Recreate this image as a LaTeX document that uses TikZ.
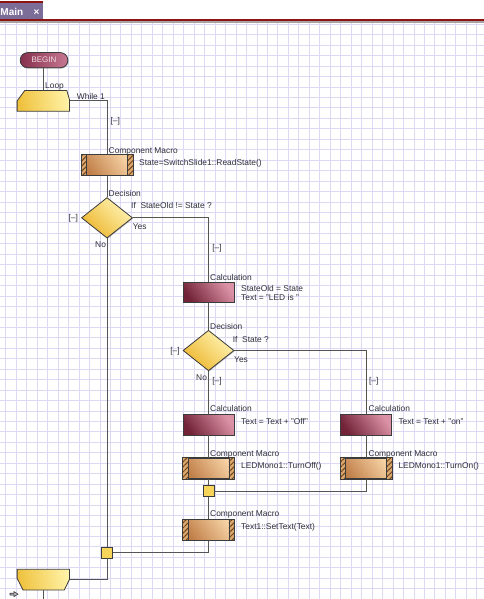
\documentclass[tikz,border=0pt]{standalone}
\usepackage{fontspec}
\setmainfont{Liberation Sans}
\usetikzlibrary{shapes.geometric,patterns.meta,calc,shadows}
\definecolor{linec}{HTML}{555555}
\definecolor{bord}{HTML}{3C3C3C}
\definecolor{txt}{HTML}{2E2E3A}
\definecolor{gridc}{HTML}{DCD9F5}
\definecolor{calcA}{HTML}{722338}
\definecolor{calcB}{HTML}{DC92A6}
\definecolor{macA}{HTML}{C07E48}
\definecolor{macB}{HTML}{F6D2A4}
\definecolor{hatchbg}{HTML}{DDA86C}
\definecolor{hatchc}{HTML}{6B4422}
\definecolor{yelA}{HTML}{EDB62E}
\definecolor{yelB}{HTML}{FFF4B4}
\definecolor{loopA}{HTML}{EFC23E}
\definecolor{loopB}{HTML}{FFF2A6}
\definecolor{jun}{HTML}{F7D55A}
\definecolor{begA}{HTML}{86304D}
\definecolor{begB}{HTML}{C77892}
\definecolor{begT}{HTML}{F3DDE6}
\definecolor{tabc}{HTML}{7C6D98}
\definecolor{tabred}{HTML}{8E1414}
\definecolor{tabgray}{HTML}{A8A2A2}
\definecolor{iconc}{HTML}{B8B8C0}
\tikzset{
  conn/.style={draw=linec, line width=1pt},
  lbl/.style={anchor=base west, inner sep=0pt, text=txt, font=\fontsize{8.4}{9}\selectfont},
  tog/.style={anchor=center, inner sep=0pt, text=txt, font=\fontsize{8.4}{9}\selectfont},
  shad/.style={drop shadow={shadow xshift=0.8pt, shadow yshift=-0.8pt, opacity=0.25, fill=black}},
  calcbox/.style={rectangle, draw=bord, line width=0.9pt, minimum width=51pt, minimum height=20.5pt, inner sep=0pt, shad, left color=calcA, right color=calcB, shading angle=125},
  macrobox/.style={rectangle, draw=bord, line width=0.9pt, minimum width=51pt, minimum height=20.5pt, inner sep=0pt, shad, left color=macA, right color=macB, shading angle=125},
  decis/.style={diamond, draw=bord, line width=0.8pt, minimum width=51pt, minimum height=40.5pt, inner sep=0pt, shad, left color=yelA, right color=yelB, shading angle=135},
  junc/.style={rectangle, draw=bord, line width=0.8pt, minimum size=10.8pt, inner sep=0pt, fill=jun},
  ghost/.style={rectangle, draw=none, inner sep=0pt, minimum width=52pt, minimum height=20.4pt},
  loopshape/.style={draw=bord, line width=0.8pt, left color=loopA, right color=loopB, shading angle=100},
  hatchstrip/.style={fill=hatchbg},
  hatchlines/.style={pattern={Lines[angle=45,distance=3.6pt,line width=1pt]}, pattern color=hatchc},
  beginbox/.style={rectangle, rounded corners=7.5pt, draw=bord, line width=0.8pt, minimum width=47.6pt, minimum height=15.2pt, inner sep=0pt, shad, left color=begA, right color=begB, text=begT, font=\fontsize{8}{9}\selectfont},
}
\begin{document}
\begin{tikzpicture}[x=1pt,y=-1pt]
\useasboundingbox (0,0) rectangle (484,599);
\fill[white] (0,0) rectangle (484,599);
% grid
\foreach \i in {0,...,45} \draw[gridc, line width=0.8pt] ({5.7+10.467*\i},23.3) -- ({5.7+10.467*\i},599);
\foreach \j in {0,...,54} \draw[gridc, line width=0.8pt] (0,{24.3+10.45*\j}) -- (484,{24.3+10.45*\j});
% tab bar
\fill[tabc] (0,2.6) rectangle (43.3,19.4);
\fill[tabred] (0,1) rectangle (43.3,2.8);
\fill[tabred] (0,19.3) rectangle (484,21.1);
\fill[tabgray] (0,21.1) rectangle (484,23.3);
\node[anchor=base west, inner sep=0pt, text=white, font=\bfseries\fontsize{10}{11}\selectfont] (tabtitle) at (0.3,15.6) {Main};
\node[anchor=center, inner sep=0pt, text=white, font=\bfseries\fontsize{10}{11}\selectfont] (tabclose) at (36.6,12.6) {×};

% nodes
\node[beginbox] (begin) at (44,60.2) {BEGIN};
\node[ghost] (loop) at (43.3,100.85) {};
\node[macrobox] (cm1) at (107,165) {};
\node[decis] (d1) at (107,217.8) {};
\node[calcbox] (c1) at (208.5,292.3) {};
\node[decis] (d2) at (208.5,350.5) {};
\node[calcbox] (c2) at (208.5,424.7) {};
\node[calcbox] (c3) at (366,424.7) {};
\node[macrobox] (cm2) at (208.5,468.3) {};
\node[macrobox] (cm3) at (366,468.3) {};
\node[junc] (j1) at (208.5,491) {};
\node[macrobox] (cm4) at (208.5,529.8) {};
\node[junc] (j2) at (107,552.5) {};
\node[ghost] (eloop) at (43.3,579.65) {};
\coordinate (endout) at (43.3,599);

% loop shapes
\draw[loopshape] ($(loop.north west)+(7.7,0)$) -- ($(loop.north east)+(-2.7,0)$) -- ($(loop.north east)+(0,9.3)$) -- (loop.south east) -- (loop.south west) -- ($(loop.north west)+(0,10.5)$) -- cycle;
\draw[loopshape] (eloop.north west) -- (eloop.north east) -- ($(eloop.south east)+(0,-10.7)$) -- ($(eloop.south east)+(-5.3,0)$) -- ($(eloop.south west)+(6,0)$) -- ($(eloop.south west)+(0,-11.7)$) -- cycle;

% hatched ends of macro boxes
\foreach \n in {cm1,cm2,cm3,cm4} {
  \fill[hatchstrip] (\n.north west) rectangle ($(\n.south west)+(5.6,0)$);
  \fill[hatchlines] (\n.north west) rectangle ($(\n.south west)+(5.6,0)$);
  \fill[hatchstrip] ($(\n.north east)+(-5.6,0)$) rectangle (\n.south east);
  \fill[hatchlines] ($(\n.north east)+(-5.6,0)$) rectangle (\n.south east);
  \draw[bord, line width=0.7pt] ($(\n.north west)+(5.6,0)$) -- ($(\n.south west)+(5.6,0)$);
  \draw[bord, line width=0.7pt] ($(\n.north east)+(-5.6,0)$) -- ($(\n.south east)+(-5.6,0)$);
  \draw[bord, line width=0.9pt] (\n.north west) rectangle (\n.south east);
}

% connectors
\draw[conn] (loop.north) -- (loop.north |- begin.south);
\draw[conn] (loop.east) -| (cm1.north);
\draw[conn] (cm1.south) -- (d1.north);
\draw[conn] (d1.east) -| (c1.north);
\draw[conn] (d1.south) -- (j2.north);
\draw[conn] (c1.south) -- (d2.north);
\draw[conn] (d2.east) -| (c3.north);
\draw[conn] (d2.south) -- (c2.north);
\draw[conn] (c2.south) -- (cm2.north);
\draw[conn] (c3.south) -- (cm3.north);
\draw[conn] (cm2.south) -- (j1.north);
\draw[conn] (cm3.south) |- (j1.east);
\draw[conn] (j1.south) -- (cm4.north);
\draw[conn] (cm4.south) |- (j2.east);
\draw[conn] (j2.south) |- (eloop.east);
\draw[conn] (eloop.south) -- (endout);

% labels
\node[lbl] (tloop) at (45,88.6) {Loop};
\node[lbl] (twhile) at (76.7,99.6) {While 1};
\node[tog] (tg1) at (115.3,121.7) {[–]};
\node[lbl] (tcm1) at (108.5,153.2) {Component Macro};
\node[lbl] (xcm1) at (139,165.3) {State=SwitchSlide1::ReadState()};
\node[lbl] (td1) at (108.5,196.6) {Decision};
\node[tog] (tg2) at (73.3,218.3) {[–]};
\node[lbl] (qd1) at (131,208.6) {If\ \ StateOld != State ?};
\node[lbl] (yd1) at (132.7,229.3) {Yes};
\node[lbl] (nd1) at (95,247.6) {No};
\node[tog] (tg3) at (217,248.3) {[–]};
\node[lbl] (tc1) at (210,280) {Calculation};
\node[lbl] (xc1a) at (241,291) {StateOld = State};
\node[lbl] (xc1b) at (241,300) {Text = "LED is "};
\node[lbl] (td2) at (210,329) {Decision};
\node[tog] (tg4) at (175,351.3) {[–]};
\node[lbl] (qd2) at (232.7,342) {If\ \ State ?};
\node[lbl] (yd2) at (234,362) {Yes};
\node[lbl] (nd2) at (196,380.6) {No};
\node[tog] (tg5) at (217,381) {[–]};
\node[tog] (tg6) at (373.7,381) {[–]};
\node[lbl] (tc2) at (210,411.7) {Calculation};
\node[lbl] (tc3) at (368.3,411.7) {Calculation};
\node[lbl] (xc2) at (241,424.3) {Text = Text + "Off"};
\node[lbl] (xc3) at (398.3,424.3) {Text = Text + "on"};
\node[lbl] (tcm2) at (210,456) {Component Macro};
\node[lbl] (tcm3) at (368.3,456) {Component Macro};
\node[lbl] (xcm2) at (241,468.6) {LEDMono1::TurnOff()};
\node[lbl] (xcm3) at (398.3,468.6) {LEDMono1::TurnOn()};
\node[lbl] (tcm4) at (210,516.7) {Component Macro};
\node[lbl] (xcm4) at (241,529.4) {Text1::SetText(Text)};

% small arrow icon
\draw[fill=iconc, draw=bord, line width=0.6pt] (10,593.2) -- (14,593.2) -- (14,591.6) -- (18,594.1) -- (14,596.6) -- (14,595) -- (10,595) -- cycle;
\end{tikzpicture}
\end{document}
